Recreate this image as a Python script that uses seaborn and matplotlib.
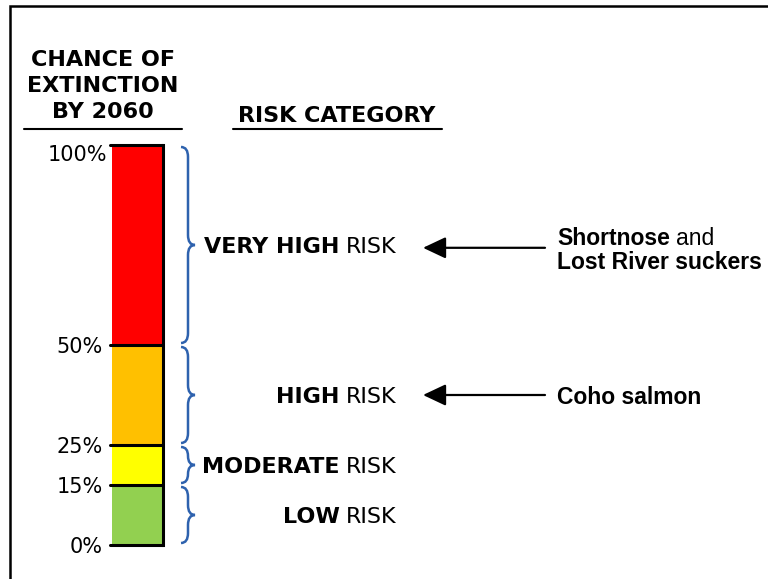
import matplotlib
matplotlib.use("Agg")
import matplotlib.pyplot as plt
import matplotlib.transforms as mtransforms
from matplotlib.path import Path
from matplotlib.patches import PathPatch
import seaborn as sns

# risk bands for chance of extinction by 2060 (percent)
categories = ["LOW", "MODERATE", "HIGH", "VERY HIGH"]
lower = [0, 15, 25, 50]
upper = [15, 25, 50, 100]
band_colors = ["#92D050", "#FFFF00", "#FFC000", "#FF0000"]
tick_values = [0, 15, 25, 50, 100]
tick_labels = ["0%", "15%", "25%", "50%", "100%"]

# species pointing at a band (arrow level in percent)
arrow_level = [74.3, 37.5]

sns.set_style("white")
plt.rcParams["font.family"] = ["DejaVu Sans"]
plt.rcParams["text.color"] = "black"
plt.rcParams["ytick.color"] = "black"

W, H = 768, 579
fig = plt.figure(figsize=(W / 100, H / 100), dpi=100)

# full-figure axes in pixel units for layout
ax = fig.add_axes([0, 0, 1, 1])
ax.set_xlim(0, W)
ax.set_ylim(H, 0)
ax.axis("off")

# the stacked bar
bx0, bx1, by0, by1 = 112, 163, 145, 545
bar_ax = fig.add_axes([bx0 / W, 1 - by1 / H, (bx1 - bx0) / W, (by1 - by0) / H])
for lo, hi, col in zip(lower, upper, band_colors):
    sns.barplot(x=["chance"], y=[hi - lo], bottom=lo, color=col, saturation=1,
                width=1, errorbar=None, linewidth=0, ax=bar_ax)
bar_ax.set_xlim(-0.5, 0.5)
bar_ax.set_ylim(0, 100)
bar_ax.set_xlabel("")
bar_ax.set_ylabel("")
bar_ax.set_xticks([])
for s in ["left", "top", "bottom"]:
    bar_ax.spines[s].set_visible(False)
bar_ax.spines["right"].set_linewidth(2.2)
bar_ax.spines["right"].set_color("black")
for v in tick_values:
    bar_ax.axhline(v, xmin=-0.03, xmax=1.0, color="black", lw=2.2, clip_on=False)
bar_ax.set_yticks(tick_values)
bar_ax.set_yticklabels(tick_labels)
bar_ax.tick_params(axis="y", length=0, pad=6.5, labelsize=15, labelcolor="black")
top_lbl = bar_ax.get_yticklabels()[-1]
top_lbl.set_va("top")
top_lbl.set_transform(top_lbl.get_transform() +
                      mtransforms.ScaledTranslation(4 / 100, 0, fig.dpi_scale_trans))

# x in pixels, y in percent
blend = mtransforms.blended_transform_factory(ax.transData, bar_ax.transData)

# braces and risk labels
brace_color = "#2E62AE"
for cat, lo, hi in zip(categories, lower, upper):
    x0, x1, x2, gap = 181, 188, 195, 0.5
    top, bot, mid = hi - gap, lo + gap, (lo + hi) / 2
    r = min(2.5, (top - bot) / 4)
    verts = [(x0, top), (x1, top), (x1, top - r),
             (x1, mid + r), (x1, mid), (x2, mid),
             (x1, mid), (x1, mid - r),
             (x1, bot + r), (x1, bot), (x0, bot)]
    codes = [Path.MOVETO, Path.CURVE3, Path.CURVE3, Path.LINETO,
             Path.CURVE3, Path.CURVE3, Path.CURVE3, Path.CURVE3,
             Path.LINETO, Path.CURVE3, Path.CURVE3]
    ax.add_patch(PathPatch(Path(verts, codes), transform=blend, fill=False,
                           edgecolor=brace_color, lw=1.8, clip_on=False))

    t = ax.text(397, mid, "RISK", transform=blend, ha="right",
                va="center_baseline", fontsize=16, color="black")
    ax.annotate(cat, xy=(0, 0), xycoords=t, xytext=(-5, 0),
                textcoords="offset points", ha="right", va="bottom",
                fontsize=16, fontweight="bold", color="black")

# headers
for i, line in enumerate(["CHANCE OF", "EXTINCTION", "BY 2060"]):
    ax.text(103, 58.5 + 25.5 * i, line, ha="center", va="center_baseline",
            fontsize=16, fontweight="bold", color="black")
ax.plot([24, 182], [128.5, 128.5], color="black", lw=1.5)
ax.text(337, 114.5, "RISK CATEGORY", ha="center", va="center_baseline",
        fontsize=16, fontweight="bold", color="black")
ax.plot([233, 442], [128.5, 128.5], color="black", lw=1.5)

# arrows and species labels
for lvl in arrow_level:
    ax.annotate("", xy=(423, lvl), xycoords=blend, xytext=(545, lvl),
                textcoords=blend,
                arrowprops=dict(arrowstyle="-|>,head_length=0.7,head_width=0.33",
                                mutation_scale=20, lw=1.6, color="black",
                                shrinkA=0, shrinkB=0))

sp = dict(fontsize=16.5, family="Liberation Sans", color="black")
t1 = ax.annotate("Shortnose", xy=(557, arrow_level[0]), xycoords=blend,
                 xytext=(0, 8.6), textcoords="offset points",
                 ha="left", va="center_baseline", fontweight="bold", **sp)
ax.annotate("and", xy=(1, 0), xycoords=t1, xytext=(4.6, 0),
            textcoords="offset points", ha="left", va="bottom", **sp)
ax.annotate("Lost River suckers", xy=(557, arrow_level[0]), xycoords=blend,
            xytext=(0, -8.6), textcoords="offset points",
            ha="left", va="center_baseline", fontweight="bold", **sp)
ax.annotate("Coho salmon", xy=(557, arrow_level[1]), xycoords=blend,
            ha="left", va="center_baseline", fontweight="bold", **sp)

# frame (top and left edges)
ax.plot([10, 10, W], [H, 6.3, 6.3], color="black", lw=1.8,
        solid_joinstyle="miter", clip_on=False)

fig.savefig("out.png", dpi=100)
plt.close()
